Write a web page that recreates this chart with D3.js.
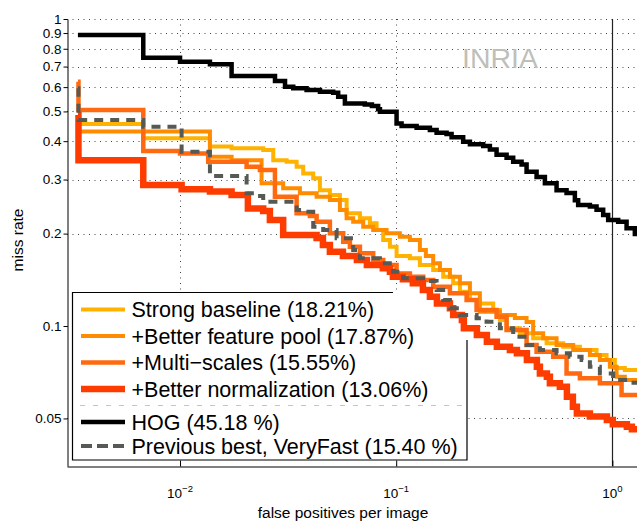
<!DOCTYPE html>
<html><head><meta charset="utf-8">
<script src="https://cdn.jsdelivr.net/npm/d3@7"></script>
<style>
html,body{margin:0;padding:0;background:#fff;}
svg{display:block;font-family:"Liberation Sans",Arial,Helvetica,sans-serif;}
</style></head><body>
<svg id="chart" width="637" height="525"></svg>
<script>
// ---------- data ----------
const fppiTicks = [0.01, 0.1, 1];
const fppiTickExponents = ["\u22122", "\u22121", "0"];
const missTicks = [0.05, 0.1, 0.2, 0.3, 0.4, 0.5, 0.6, 0.7, 0.8, 0.9, 1];
const missTickLabels = ["0.05", "0.1", "0.2", "0.3", "0.4", "0.5", "0.6", "0.7", "0.8", "0.9", "1"];
const seriesNames = ["Strong baseline (18.21%)", "+Better feature pool (17.87%)", "+Multi\u2212scales (15.55%)",
  "+Better normalization (13.06%)", "HOG (45.18 %)", "Previous best, VeryFast (15.40 %)"];

// [false positives per image, miss rate] — step curves
const strongBaseline = [[0.00337,0.455],[0.00676,0.409],[0.01375,0.384],[0.01732,0.379],[0.02425,0.3745],[0.02699,0.347],
  [0.03112,0.343],[0.03462,0.330],[0.03714,0.314],[0.04132,0.303],[0.04437,0.277],[0.04934,0.267],[0.0549,0.2573],
  [0.05896,0.2328],[0.06794,0.2243],[0.07556,0.216],[0.08114,0.2054],[0.08706,0.1906],[0.09353,0.1813],[0.1004,0.169],
  [0.1157,0.1661],[0.1287,0.158],[0.1483,0.1522],[0.1650,0.1447],[0.1835,0.1377],[0.1971,0.1293],[0.2193,0.1215],
  [0.2438,0.1185],[0.2810,0.1128],[0.3017,0.1046],[0.3241,0.0983],[0.3734,0.0947],[0.4301,0.0912],[0.4963,0.0878],
  [0.5922,0.0856],[0.7075,0.0835],[0.845,0.0804],[0.9401,0.0775],[1.027,0.0730],[1.142,0.0719],[1.4,0.0719]];
const betterFeaturePool = [[0.00337,0.430],[0.01375,0.356],[0.01732,0.347],[0.02384,0.2916],[0.0300,0.281],[0.03586,0.2706],
  [0.04283,0.2637],[0.04934,0.2573],[0.0549,0.2386],[0.05896,0.2243],[0.06324,0.2186],[0.07037,0.2106],[0.07826,0.2054],
  [0.09028,0.2004],[0.1040,0.1954],[0.1157,0.1906],[0.1287,0.1768],[0.1372,0.169],[0.1483,0.160],[0.1593,0.1522],
  [0.1772,0.1447],[0.1971,0.1377],[0.2193,0.1278],[0.2438,0.1113],[0.3017,0.1086],[0.354,0.1062],[0.4010,0.1031],
  [0.4301,0.0947],[0.4786,0.0912],[0.5519,0.0867],[0.6587,0.0835],[0.787,0.0804],[0.8754,0.0775],[0.9737,0.0737],
  [1.046,0.0684],[1.142,0.0667],[1.4,0.0667]];
const multiScales = [[0.00337,0.625],[0.00339,0.505],[0.00676,0.3715],[0.0100,0.365],[0.0135,0.343],[0.02032,0.330],
  [0.02342,0.322],[0.02748,0.2637],[0.03462,0.2328],[0.03989,0.2282],[0.04283,0.2186],[0.04934,0.2004],[0.05687,0.1882],
  [0.06106,0.1813],[0.06794,0.1725],[0.07826,0.1641],[0.08706,0.158],[0.1004,0.1484],[0.1157,0.1447],[0.1333,0.1412],
  [0.1483,0.1343],[0.1772,0.1278],[0.2117,0.1215],[0.2354,0.1128],[0.2913,0.1072],[0.3241,0.0970],[0.4010,0.0867],
  [0.4461,0.0825],[0.5323,0.0794],[0.6139,0.0701],[0.7075,0.0676],[0.8754,0.0651],[1.103,0.0596],[1.4,0.0596]];
const betterNormalization = [[0.00337,0.487],[0.00339,0.347],[0.00676,0.288],[0.01017,0.279],[0.01375,0.274],[0.01732,0.267],
  [0.0206,0.2416],[0.02425,0.2368],[0.02604,0.2215],[0.0300,0.1979],[0.04283,0.1935],[0.04581,0.1836],[0.04934,0.1746],
  [0.05669,0.169],[0.0658,0.1641],[0.0732,0.158],[0.0867,0.1541],[0.09353,0.1502],[0.09654,0.1447],[0.1074,0.1419],
  [0.1194,0.1377],[0.1329,0.1310],[0.1432,0.1246],[0.1543,0.1185],[0.1772,0.1142],[0.1835,0.1086],[0.2013,0.1046],
  [0.2056,0.0983],[0.2362,0.0935],[0.2627,0.0889],[0.2922,0.0856],[0.3357,0.0835],[0.3617,0.0815],[0.4024,0.0775],
  [0.4475,0.0737],[0.4621,0.0701],[0.4978,0.0684],[0.5140,0.0651],[0.5716,0.0634],[0.6161,0.0588],[0.6567,0.0546],
  [0.6851,0.0519],[0.787,0.0507],[0.9432,0.0494],[1.005,0.0479],[1.167,0.0470],[1.231,0.0461],[1.4,0.0461]];
const hog = [[0.00337,0.887],[0.00676,0.748],[0.0100,0.726],[0.01375,0.712],[0.01732,0.652],[0.0275,0.628],[0.0306,0.602],
  [0.0334,0.595],[0.0385,0.587],[0.0444,0.580],[0.0511,0.575],[0.0539,0.558],[0.0579,0.531],[0.0716,0.527],[0.0772,0.521],
  [0.0825,0.508],[0.0841,0.499],[0.1004,0.457],[0.1059,0.448],[0.1243,0.442],[0.1432,0.435],[0.1538,0.426],[0.1710,0.422],
  [0.1804,0.412],[0.2041,0.398],[0.2193,0.391],[0.2526,0.386],[0.2713,0.376],[0.2913,0.361],[0.3241,0.353],[0.3477,0.343],
  [0.3802,0.336],[0.4010,0.318],[0.4461,0.306],[0.4874,0.292],[0.5519,0.277],[0.6139,0.271],[0.6707,0.257],[0.6946,0.248],
  [0.787,0.245],[0.845,0.239],[0.9067,0.230],[0.9563,0.2215],[1.0637,0.2186],[1.1634,0.208],[1.2706,0.1994],[1.4,0.1994]];
const veryFast = [[0.00337,0.595],[0.00339,0.469],[0.00676,0.446],[0.01017,0.3696],[0.01375,0.308],[0.02032,0.2706],
  [0.02261,0.265],[0.02425,0.254],[0.03462,0.2386],[0.03714,0.2356],[0.04132,0.2106],[0.04595,0.2054],[0.0530,0.1932],
  [0.06324,0.1768],[0.06794,0.1661],[0.08405,0.160],[0.09685,0.1502],[0.1077,0.1430],[0.1333,0.1401],[0.1538,0.1310],
  [0.1650,0.1215],[0.1772,0.1142],[0.1971,0.1086],[0.2354,0.1060],[0.2618,0.1033],[0.3017,0.0983],[0.3477,0.0923],
  [0.4010,0.0867],[0.4621,0.0835],[0.5519,0.0815],[0.6358,0.0794],[0.7204,0.0775],[0.787,0.0737],[0.8754,0.0701],
  [1.0086,0.0667],[1.205,0.0654],[1.4,0.0654]];

// ---------- styles ----------
const seriesData = [strongBaseline, betterFeaturePool, multiScales, betterNormalization, hog, veryFast];
const seriesColors = ["#FFB300", "#FF8C00", "#FF6A10", "#FF3C00", "#000000", "#555a55"];
const seriesWidths = [4, 4, 4.5, 6.5, 4.5, 4];
const seriesDash = [null, null, null, null, null, "9,7"];
const legendDash = [null, null, null, null, null, "11,5"];

const svg = d3.select("#chart");
const L = 67, R = 637, T = 19, B = 466;
const x = d3.scaleLog().domain([0.003, 1.3]).range([L, R]);
const y = d3.scaleLog().domain([0.035, 1]).range([B, T]);

// grid
const grid = svg.append("g");
grid.selectAll("line.h").data(missTicks).enter().append("line")
  .attr("x1", L).attr("x2", R).attr("y1", d => Math.round(y(d)) + 0.5).attr("y2", d => Math.round(y(d)) + 0.5)
  .attr("stroke", "#444").attr("stroke-width", 1).attr("stroke-dasharray", "1,4.5");
grid.selectAll("line.v").data(fppiTicks).enter().append("line")
  .attr("x1", d => Math.round(x(d)) + 0.5).attr("x2", d => Math.round(x(d)) + 0.5)
  .attr("y1", T).attr("y2", B)
  .attr("stroke", d => d === 1 ? "#222" : "#444").attr("stroke-width", d => d === 1 ? 1.2 : 1)
  .attr("stroke-dasharray", d => d === 1 ? null : "1,4.5");

// dataset label
svg.append("text").attr("x", 500).attr("y", 68).attr("text-anchor", "middle")
  .attr("font-size", 28.5).attr("fill", "#bfbfb9").text("INRIA");

// legend box
const lg = svg.append("g");
lg.append("rect").attr("x", 72.5).attr("y", 292.5).attr("width", 394.5).attr("height", 167.5).attr("fill", "#fff");
lg.append("path").attr("d", "M393,292.5H72.5V460H467V340").attr("fill", "none").attr("stroke", "#000").attr("stroke-width", 1.2);
const rowY = [309.5, 336, 362.5, 389, 422, 446];
seriesNames.forEach((name, i) => {
  lg.append("line").attr("x1", 81).attr("x2", 125).attr("y1", rowY[i]).attr("y2", rowY[i])
    .attr("stroke", seriesColors[i]).attr("stroke-width", seriesWidths[i])
    .attr("stroke-dasharray", legendDash[i]);
  lg.append("text").attr("x", 131.5).attr("y", rowY[i] + 7.6).attr("font-size", 21.5).attr("fill", "#000").text(name);
});
lg.append("line").attr("x1", 80).attr("x2", 462).attr("y1", 405.5).attr("y2", 405.5)
  .attr("stroke", "#c4c4c4").attr("stroke-width", 1).attr("stroke-dasharray", "5,8");

// curves
svg.append("clipPath").attr("id", "clip").append("rect").attr("x", L).attr("y", 0).attr("width", R - L).attr("height", B);
const line = d3.line().x(d => x(d[0])).y(d => y(d[1])).curve(d3.curveStepAfter);
const cg = svg.append("g").attr("clip-path", "url(#clip)");
seriesData.forEach((data, i) => {
  cg.append("path").attr("d", line(data)).attr("fill", "none")
    .attr("stroke", seriesColors[i]).attr("stroke-width", seriesWidths[i])
    .attr("stroke-dasharray", seriesDash[i]).attr("stroke-linejoin", "miter").attr("stroke-miterlimit", 2);
});

// axes
const gy = svg.append("g").attr("transform", `translate(${L + 0.5},0)`)
  .call(d3.axisLeft(y).tickValues(missTicks).tickFormat((d, i) => missTickLabels[i]).tickSize(4).tickSizeOuter(0).tickPadding(2));
gy.attr("font-family", null);
gy.selectAll("text").attr("font-size", 13.5).attr("fill", "#000");
gy.selectAll("line,path").attr("stroke", "#000");

const gx = svg.append("g").attr("transform", `translate(0,${B + 0.5})`)
  .call(d3.axisBottom(x).tickValues(fppiTicks).tickFormat("").tickSize(-6).tickSizeOuter(0));
gx.selectAll("line,path").attr("stroke", "#000");

const xl = svg.append("g").selectAll("text").data(fppiTicks).enter().append("text")
  .attr("x", d => x(d)).attr("y", 498).attr("text-anchor", "middle").attr("font-size", 13.5).attr("fill", "#000");
xl.append("tspan").text("10");
xl.append("tspan").attr("dy", -6).attr("font-size", 9.5).text((d, i) => fppiTickExponents[i]);

svg.append("text").attr("x", 343).attr("y", 518).attr("text-anchor", "middle").attr("font-size", 15.5).text("false positives per image");
svg.append("text").attr("transform", "translate(23,240) rotate(-90)").attr("text-anchor", "middle").attr("font-size", 15.5).text("miss rate");
</script>
</body></html>
